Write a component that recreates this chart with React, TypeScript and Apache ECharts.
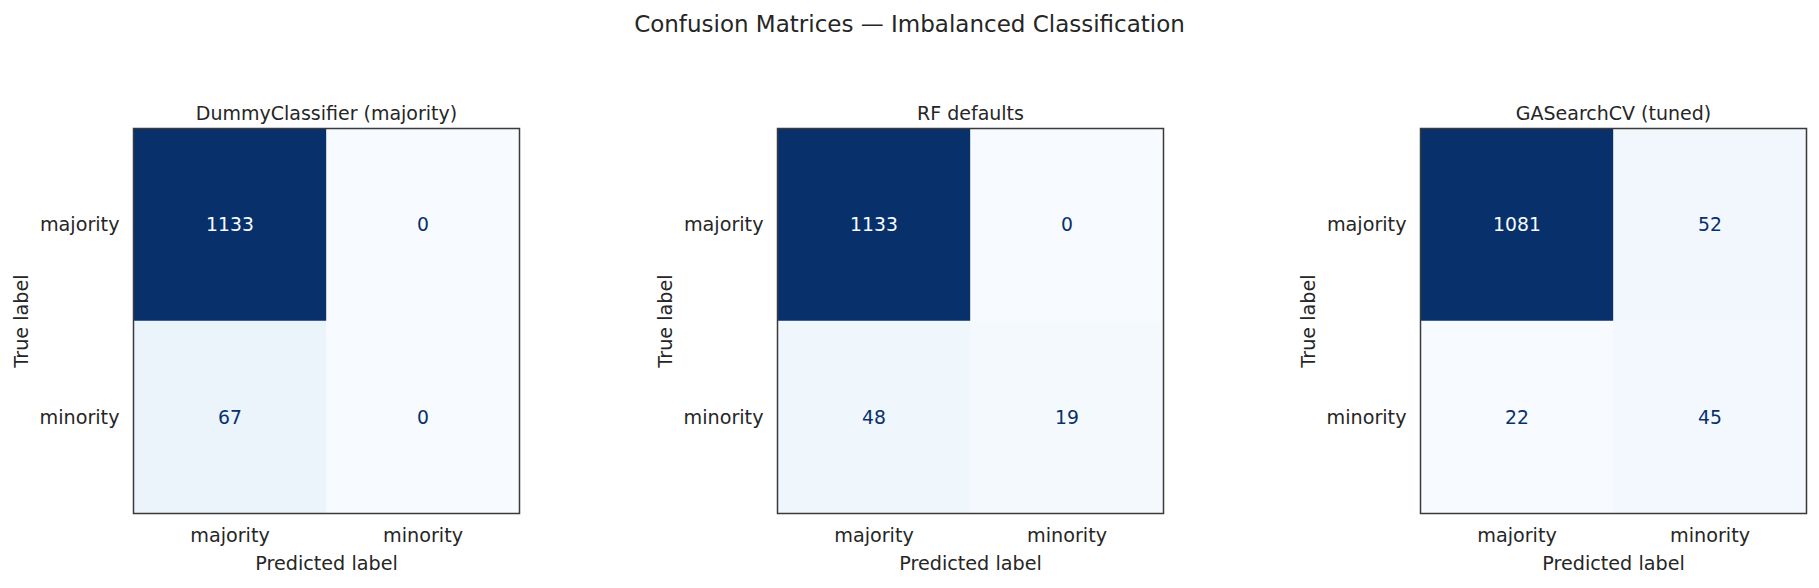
import React, { useEffect, useRef } from "react";
import * as echarts from "echarts";

const classLabels = ["majority", "minority"];
const panelTitles = ["DummyClassifier (majority)", "RF defaults", "GASearchCV (tuned)"];
// rows = true label, cols = predicted label
const dummyMatrix = [
  [1133, 0],
  [67, 0],
];
const rfMatrix = [
  [1133, 0],
  [48, 19],
];
const gaMatrix = [
  [1081, 52],
  [22, 45],
];
const matrices = [dummyMatrix, rfMatrix, gaMatrix];
const bluesColors = [
  "#f7fbff", "#deebf7", "#c6dbef", "#9ecae1", "#6baed6",
  "#4292c6", "#2171b5", "#08519c", "#08306b",
];

const FONT = "DejaVu Sans";
const TXT = "#262626";

export default function App() {
  const ref = useRef<HTMLDivElement>(null);
  useEffect(() => {
    if (!ref.current) return;
    const chart = echarts.init(ref.current, undefined, { renderer: "svg" });
    const lefts = [133.5, 777.5, 1420.5];
    const W = 386;
    const H = 385;
    const TOP = 128.5;
    const grids: any[] = [];
    const xAxes: any[] = [];
    const yAxes: any[] = [];
    const series: any[] = [];
    const visualMaps: any[] = [];
    const titles: any[] = [
      {
        text: "Confusion Matrices — Imbalanced Classification",
        left: "center",
        top: 12,
        padding: 0,
        textStyle: { fontFamily: FONT, fontSize: 23, fontWeight: "normal", color: TXT },
      },
    ];
    matrices.forEach((m, i) => {
      const flat = m.flat();
      const mn = Math.min(...flat);
      const mx = Math.max(...flat);
      const thresh = (mn + mx) / 2;
      grids.push({
        left: lefts[i],
        top: TOP,
        width: W,
        height: H,
        show: true,
        z: 10,
        backgroundColor: "transparent",
        borderColor: "#3a3a3a",
        borderWidth: 1.5,
      });
      xAxes.push({
        type: "category",
        gridIndex: i,
        data: classLabels,
        axisLine: { show: false },
        axisTick: { show: false },
        splitLine: { show: false },
        axisLabel: { fontFamily: FONT, fontSize: 19.2, color: TXT, margin: 12 },
        name: "Predicted label",
        nameLocation: "middle",
        nameGap: 40,
        nameTextStyle: { fontFamily: FONT, fontSize: 19.2, color: TXT },
      });
      yAxes.push({
        type: "category",
        gridIndex: i,
        data: classLabels,
        inverse: true,
        axisLine: { show: false },
        axisTick: { show: false },
        splitLine: { show: false },
        axisLabel: { fontFamily: FONT, fontSize: 19.2, color: TXT, margin: 14 },
        name: "True label",
        nameLocation: "middle",
        nameGap: 103,
        nameRotate: 90,
        nameTextStyle: { fontFamily: FONT, fontSize: 19.2, color: TXT },
      });
      const data: any[] = [];
      m.forEach((row, r) => {
        row.forEach((v, c) => {
          data.push({
            value: [c, r, v],
            label: { color: v < thresh ? "#08306b" : "#f7fbff" },
          });
        });
      });
      series.push({
        type: "heatmap",
        xAxisIndex: i,
        yAxisIndex: i,
        data,
        label: {
          show: true,
          fontFamily: FONT,
          fontSize: 18.8,
          formatter: (p: any) => String(p.value[2]),
        },
        itemStyle: { borderWidth: 0 },
        emphasis: { disabled: true },
      });
      visualMaps.push({
        show: false,
        type: "continuous",
        seriesIndex: i,
        dimension: 2,
        min: mn,
        max: mx,
        inRange: { color: bluesColors },
      });
      titles.push({
        text: panelTitles[i],
        left: lefts[i] + W / 2,
        top: 103,
        padding: 0,
        textAlign: "center",
        textStyle: { fontFamily: FONT, fontSize: 19, fontWeight: "normal", color: TXT },
      });
    });
    chart.setOption({
      animation: false,
      backgroundColor: "#ffffff",
      title: titles,
      grid: grids,
      xAxis: xAxes,
      yAxis: yAxes,
      visualMap: visualMaps,
      series,
    });
    return () => chart.dispose();
  }, []);
  return (
    <div
      ref={ref}
      style={{ position: "absolute", left: 0, top: 0, width: 1819, height: 588 }}
    />
  );
}
